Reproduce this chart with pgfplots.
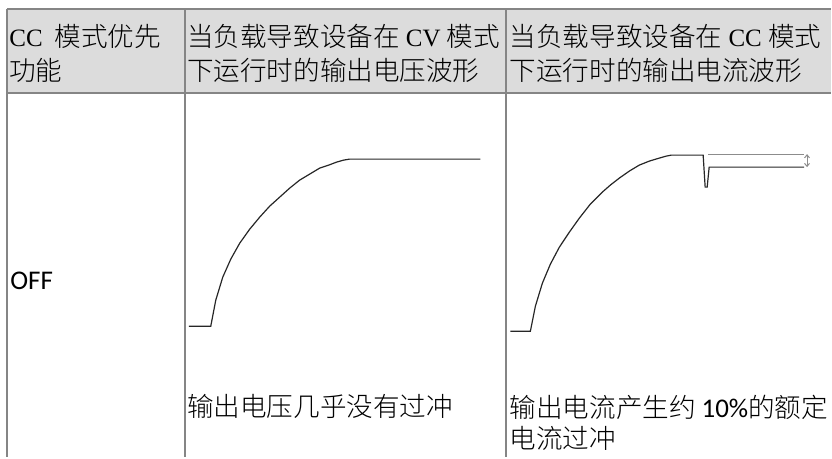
\documentclass[border=0pt]{standalone}
\usepackage{fontspec}
\usepackage{pgfplots}
\pgfplotsset{compat=1.18}
\usetikzlibrary{arrows.meta}
\setmainfont{Noto Sans CJK SC Light}
\newfontfamily\lat{Liberation Serif}
\newfontfamily\calf{Carlito}
\definecolor{hdr}{HTML}{DCDCDC}
\definecolor{rule}{HTML}{858585}
\begin{document}
\begin{tikzpicture}
\begin{axis}[
  width=416pt, height=228.5pt, scale only axis,
  xmin=0, xmax=832, ymin=0, ymax=457, y dir=reverse,
  hide axis, clip=false,
]
% table background and rules
\fill[hdr] (axis cs:7,9) rectangle (axis cs:832,93);
\draw[rule, line width=1pt] (axis cs:7,9) -- (axis cs:832,9);
\draw[rule, line width=1pt] (axis cs:7,93) -- (axis cs:832,93);
\draw[rule, line width=1pt] (axis cs:7,9) -- (axis cs:7,457);
\draw[rule, line width=1pt] (axis cs:185,9) -- (axis cs:185,457);
\draw[rule, line width=1pt] (axis cs:507,9) -- (axis cs:507,457);
\path (axis cs:0,0) rectangle (axis cs:832,457);

% header text
\tikzset{txt/.style={anchor=base west, inner sep=0pt, font=\fontsize{13.3}{16}\selectfont}}
\node[txt] at (axis cs:9,46) {{\lat\fontsize{12.5}{15}\selectfont CC}\hspace{6pt}模式优先};
\node[txt] at (axis cs:9,80) {功能};
\node[txt] at (axis cs:187,46) {当负载导致设备在{\lat\fontsize{12.5}{15}\selectfont\ CV }模式};
\node[txt] at (axis cs:187,80) {下运行时的输出电压波形};
\node[txt] at (axis cs:510,46) {当负载导致设备在{\lat\fontsize{12.5}{15}\selectfont\ CC }模式};
\node[txt] at (axis cs:510,80) {下运行时的输出电流波形};

% body
\node[anchor=base west, inner sep=0pt, font=\calf\fontsize{13.5}{16}\selectfont] at (axis cs:10,289) {OFF};
\node[txt] at (axis cs:187,416) {输出电压几乎没有过冲};
\node[txt] at (axis cs:510,417) {输出电流产生约 {\calf\fontsize{13.5}{16}\selectfont 10\%}的额定};
\node[txt] at (axis cs:510,448) {电流过冲};

% voltage waveform (CV)
\addplot[black!85, line width=0.6pt] coordinates {
(189,326) (211,326) (216,300) (223,277) (231,259) (240,243) (250,229) (260,217)
(270,206) (280,197) (290,188) (300,180) (310,174) (320,168) (329,165) (337,162)
(344,160) (350,159) (481,159)};

% current waveform (CC)
\addplot[black!85, line width=0.6pt] coordinates {
(511,331) (531,331) (536,306) (543,283) (551,264) (560,247) (570,232) (580,218)
(591,204) (603,192) (611,185) (620,178) (630,171) (640,165) (650,161) (660,158)
(667,156) (672,155) (704,155) (706,187) (708,187) (710,167) (805,167)};
\addplot[black!45, line width=0.6pt] coordinates {(709,154) (805,154)};
\addplot[black!45, line width=0.5pt, {Straight Barb[length=1.5pt,width=2.5pt]}-{Straight Barb[length=1.5pt,width=2.5pt]}] coordinates {(808,154) (808,167)};
\end{axis}
\end{tikzpicture}
\end{document}
